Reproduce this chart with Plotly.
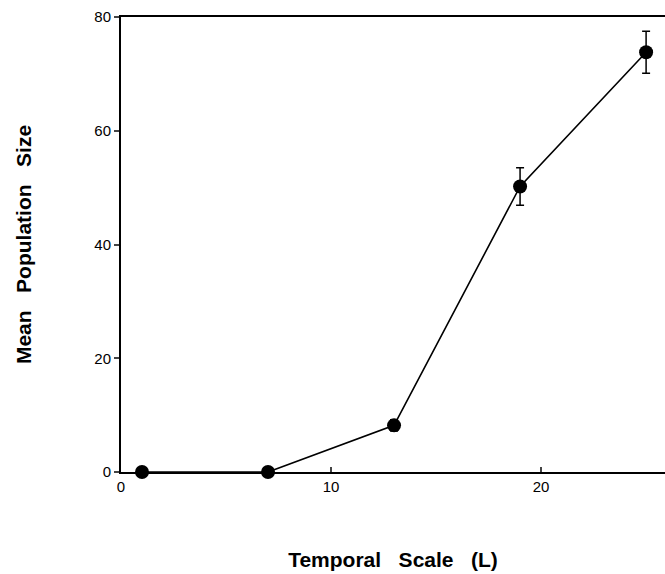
import plotly.graph_objects as go

temporal_scale = [1, 7, 13, 19, 25]
mean_pop = [0.0, 0.0, 8.2, 50.2, 73.8]
err = [0.0, 0.0, 1.0, 3.3, 3.7]
x_ticks = [0, 10, 20]
y_ticks = [0, 20, 40, 60, 80]

fig = go.Figure(go.Scatter(
    x=temporal_scale, y=mean_pop,
    mode="lines+markers",
    line=dict(color="black", width=1.6),
    marker=dict(color="black", size=14),
    error_y=dict(type="data", array=err, visible=True, color="black", thickness=1.5, width=4),
    showlegend=False,
    cliponaxis=False,
))

sp = "\u00a0\u00a0 "
fig.update_layout(
    width=665, height=574,
    margin=dict(l=121, r=0, t=17, b=102),
    plot_bgcolor="white", paper_bgcolor="white",
    font=dict(family="Liberation Sans, Arial, sans-serif", color="black", size=15),
    xaxis=dict(
        range=[0, 25.9], tickvals=x_ticks, ticks="inside", ticklen=5, tickwidth=1.5,
        showline=True, linecolor="black", linewidth=2, mirror=True, showgrid=False, zeroline=False,
        automargin=False,
        title=dict(text=f"<b>Temporal{sp}Scale{sp}(L)</b>", font=dict(size=21), standoff=58),
    ),
    yaxis=dict(
        range=[0, 80], tickvals=y_ticks, ticks="outside", ticklen=5, tickwidth=1.5,
        showline=True, linecolor="black", linewidth=2, showgrid=False, zeroline=False,
        automargin=False,
        title=dict(text=f"<b>Mean{sp}Population{sp}Size</b>", font=dict(size=21), standoff=57),
    ),
)

fig.write_html("out.html", config={"displayModeBar": False},
               post_script="document.body.style.margin='0';")
